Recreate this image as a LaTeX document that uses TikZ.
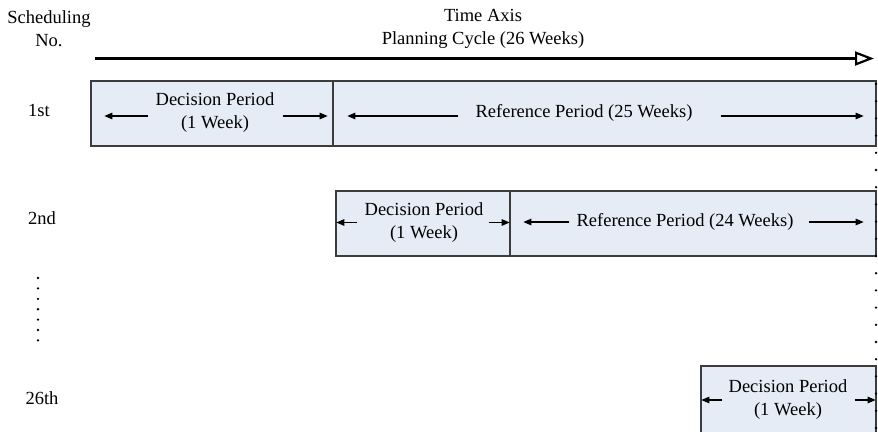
\documentclass[tikz,border=0pt]{standalone}
\usepackage{fontspec}
\setmainfont{Liberation Serif}
\usetikzlibrary{arrows.meta, positioning, fit}

\definecolor{boxfill}{RGB}{230,236,246}
\definecolor{boxline}{RGB}{60,60,60}

\begin{document}
\begin{tikzpicture}[x=1pt, y=-1pt, font=\fontsize{18.5}{23}\selectfont,
    period/.style = {draw=boxline, fill=boxfill, line width=1.3pt, inner sep=0pt},
    lbl/.style = {align=center, inner sep=0pt},
    arr/.style = {line width=1.1pt, -{Triangle[length=8pt, width=6.5pt]}},
    timeaxis/.style = {line width=2.2pt, -{Triangle[open, length=19pt, width=14pt]}},
    dotline/.style = {line width=2.6pt, line cap=round, dash pattern=on 0pt off #1},
    dotline/.default = 17.2pt]
    \useasboundingbox (0,0) rectangle (878,431);
    \clip (0,0) rectangle (878,431);

    % headings and time axis
    \node[lbl] (sched) at (49,29) {Scheduling\\No.};
    \node[lbl] (cycle) at (483,29) {Time Axis\\Planning Cycle (26 Weeks)};
    \coordinate (axs) at (95,58.5);
    \coordinate (axe) at (874,58.5);
    \draw[timeaxis] (axs) -- (axe);

    % 1st scheduling
    \node[lbl] (no1) at (39,110) {1st};
    \node[period, fit={(91,81) (333,146)}] (dec1) {};
    \node[period, fit={(333,81) (876,146)}] (ref1) {};
    \node[lbl] (dec1t) at (215,113) {Decision Period\\(1 Week)};
    \node[lbl] (ref1t) at (584,113) {Reference Period (25 Weeks)};
    \path[arr]
    ([shift={(-7,3)}]dec1t.west) edge ([shift={(14,3)}]dec1.west |- dec1t.west)
    ([shift={(8,3)}]dec1t.east) edge ([shift={(-6,3)}]dec1.east |- dec1t.east)
    ([shift={(-17,3)}]ref1t.west) edge ([shift={(15,3)}]ref1.west |- ref1t.west)
    ([shift={(28,3)}]ref1t.east) edge ([shift={(-13,3)}]ref1.east |- ref1t.east)
    ;

    % 2nd scheduling
    \node[lbl] (no2) at (42,218) {2nd};
    \node[period, fit={(336,191) (510,256)}] (dec2) {};
    \node[period, fit={(510,191) (876,256)}] (ref2) {};
    \node[lbl] (dec2t) at (424,222.5) {Decision Period\\(1 Week)};
    \node[lbl] (ref2t) at (685,222) {Reference Period (24 Weeks)};
    \path[arr]
    ([xshift=-7]dec2t.west) edge ([xshift=1]dec2.west |- dec2t.west)
    ([xshift=5]dec2t.east) edge ([xshift=-1]dec2.east |- dec2t.east)
    ([xshift=-7]ref2t.west) edge ([xshift=14]ref2.west |- ref2t.west)
    ([xshift=15]ref2t.east) edge ([xshift=-13]ref2.east |- ref2t.east)
    ;

    % skipped rows
    \coordinate (gaptop) at (38,278);
    \coordinate (gapbot) at (38,341);
    \draw[dotline=10.4pt] (gaptop) -- (gapbot);

    % 26th scheduling
    \node[lbl] (no26) at (42,398) {26th};
    \node[period, fit={(701,366) (876,445)}] (dec26) {};
    \node[lbl] (dec26t) at (788,400) {Decision Period\\(1 Week)};
    \path[arr]
    ([xshift=-6]dec26t.west) edge ([xshift=1]dec26.west |- dec26t.west)
    ([xshift=7]dec26t.east) edge ([xshift=-1]dec26.east |- dec26t.east)
    ;

    % end of the planning cycle
    \coordinate (endtop) at (876,84);
    \coordinate (endbot) at (876,435);
    \draw[dotline] (endtop) -- (endbot);
\end{tikzpicture}
\end{document}
